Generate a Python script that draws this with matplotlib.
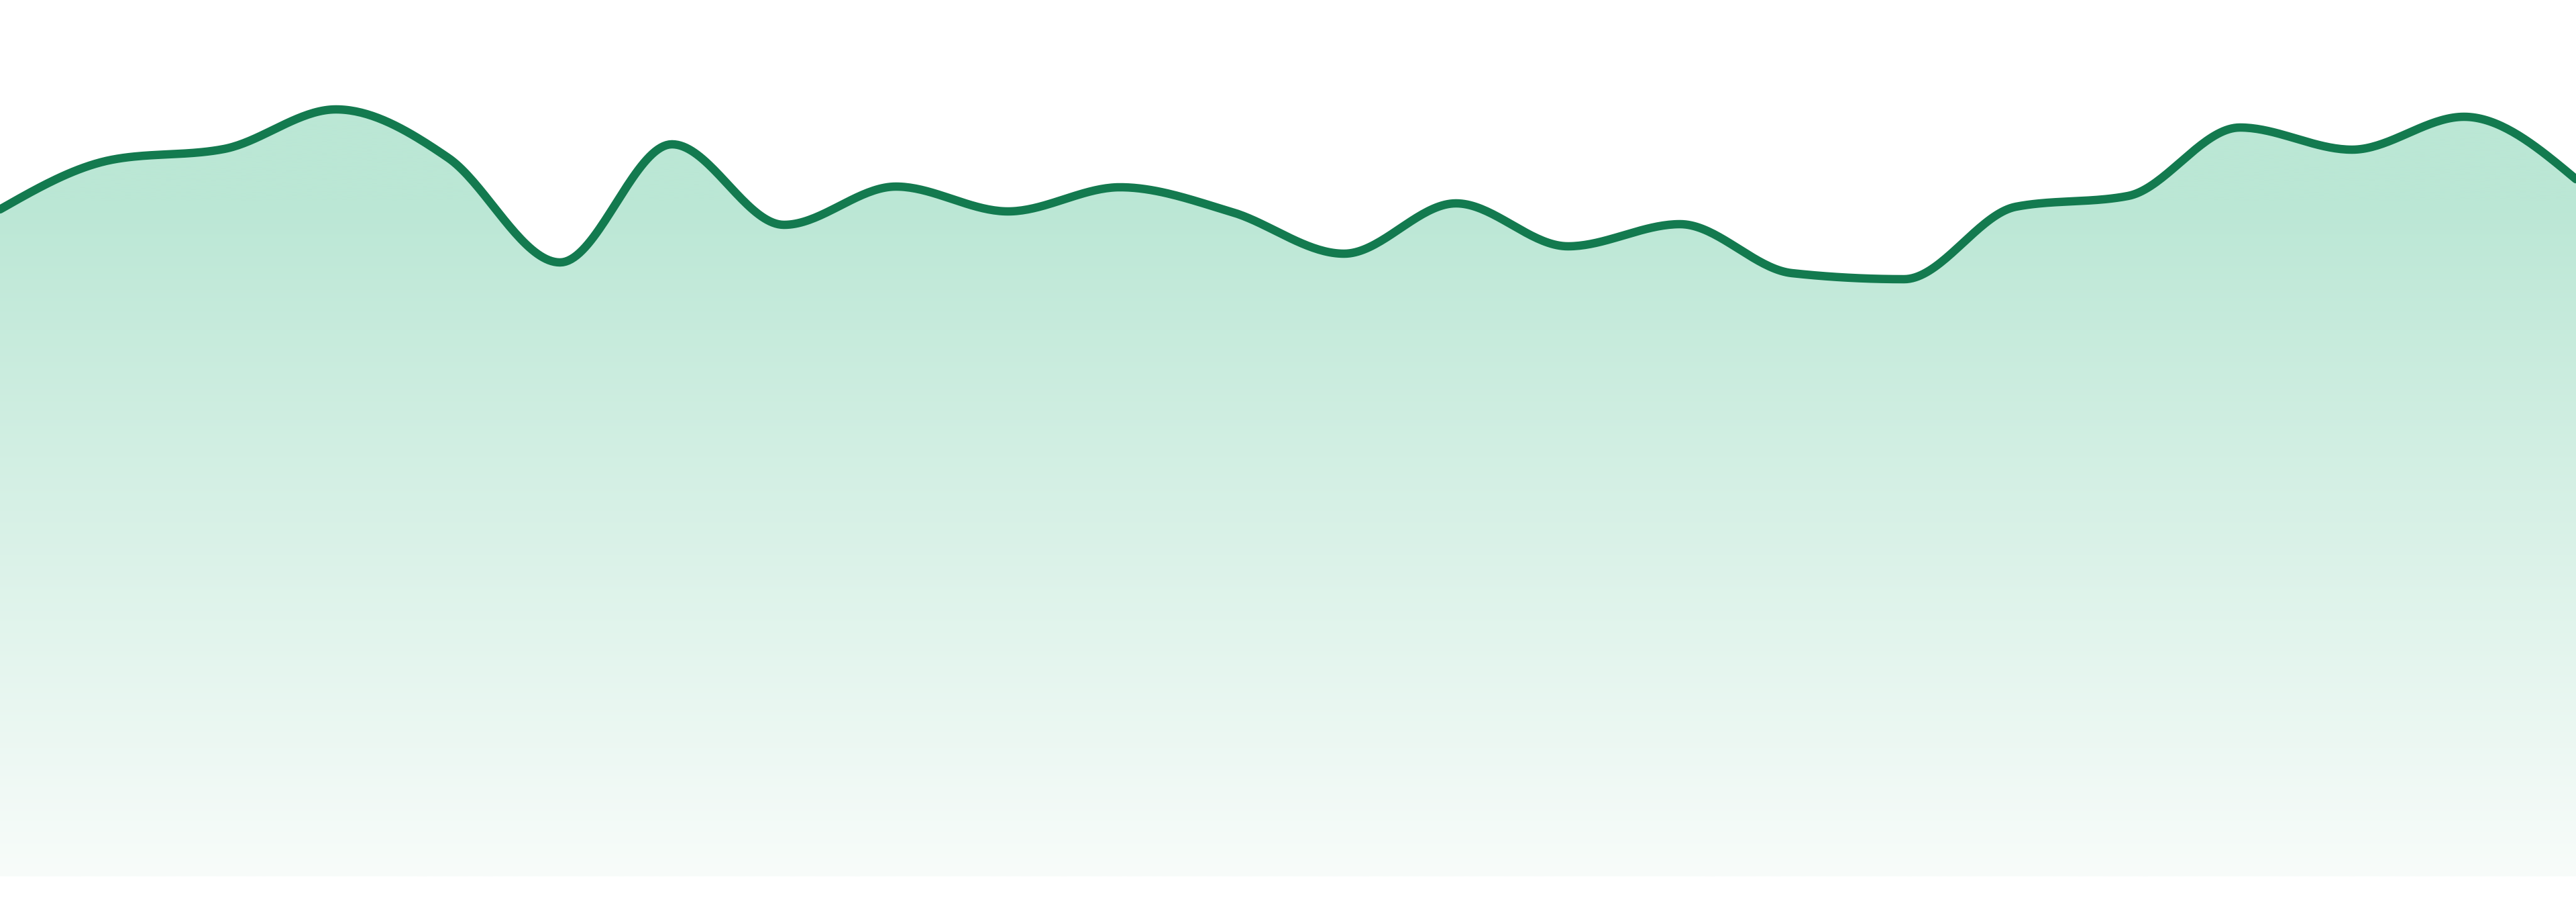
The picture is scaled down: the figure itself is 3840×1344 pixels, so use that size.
import numpy as np
import matplotlib
matplotlib.use("Agg")
import matplotlib.pyplot as plt
from matplotlib.patches import Polygon

# ---- data ----
x_idx = list(range(24))
values = [99.4, 106.8, 108.4, 114.3, 107.1, 91.5, 109.1, 97.1, 102.8, 99.1,
          102.7, 99.0, 92.8, 100.3, 93.9, 97.2, 89.9, 89.0, 99.8, 101.4,
          111.6, 108.3, 113.2, 103.9]
y_max = 130.6

line_color = "#137a4f"
fill_top = np.array([187, 231, 213]) / 255.0
fill_bottom = np.array([248, 252, 250]) / 255.0


def monotone_x(xs, ys, n=40):
    xs = np.asarray(xs, float)
    ys = np.asarray(ys, float)
    h = np.diff(xs)
    s = np.diff(ys) / h
    m = np.zeros_like(ys)
    for i in range(1, len(ys) - 1):
        s0, s1 = s[i - 1], s[i]
        p = (s0 * h[i] + s1 * h[i - 1]) / (h[i - 1] + h[i])
        m[i] = (np.sign(s0) + np.sign(s1)) * min(abs(s0), abs(s1), 0.5 * abs(p))
    m[0] = (3 * s[0] - m[1]) / 2
    m[-1] = (3 * s[-1] - m[-2]) / 2
    X, Y = [], []
    for i in range(len(xs) - 1):
        t = np.linspace(0, 1, n, endpoint=(i == len(xs) - 2))
        h00 = 2 * t**3 - 3 * t**2 + 1
        h10 = t**3 - 2 * t**2 + t
        h01 = -2 * t**3 + 3 * t**2
        h11 = t**3 - t**2
        X.append(xs[i] + t * h[i])
        Y.append(h00 * ys[i] + h10 * h[i] * m[i] + h01 * ys[i + 1] + h11 * h[i] * m[i + 1])
    return np.concatenate(X), np.concatenate(Y)


fig = plt.figure(figsize=(19.2, 6.72), dpi=200)
ax = fig.add_axes([0, 38 / 1344, 1, 1 - 38 / 1344])
ax.set_xlim(0, 23)
ax.set_ylim(0, y_max)
ax.axis("off")

cx, cy = monotone_x(x_idx, values)

# gradient fill
rows = 600
yy = np.linspace(y_max, 0, rows)
pix = 1306 - 10 * yy
t = np.clip((pix - 300) / (1306 - 300), 0, 1)
grad = fill_top[None, :] * (1 - t[:, None]) + fill_bottom[None, :] * t[:, None]
img = np.repeat(grad[:, None, :], 2, axis=1)
im = ax.imshow(img, extent=[0, 23, 0, y_max], aspect="auto", origin="upper",
               interpolation="bilinear", zorder=1)
poly = Polygon(np.column_stack([np.r_[cx, cx[-1], cx[0]], np.r_[cy, 0, 0]]),
               closed=True, facecolor="none", edgecolor="none")
ax.add_patch(poly)
im.set_clip_path(poly)

ax.plot(cx, cy, color=line_color, lw=4.5, solid_capstyle="round",
        solid_joinstyle="round", zorder=3, clip_on=False)

fig.savefig("out.png", dpi=200, facecolor="white")
